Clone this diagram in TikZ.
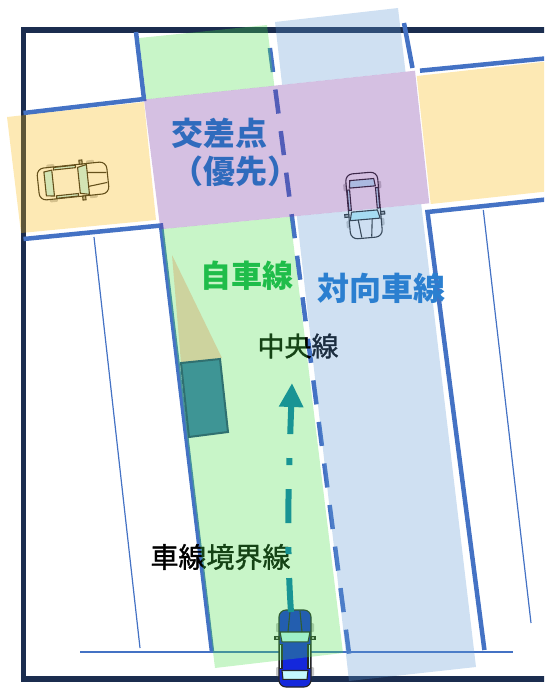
\documentclass[tikz,border=0pt]{standalone}
\usepackage{fontspec}
\usetikzlibrary{arrows.meta}
\newfontfamily\jp{Noto Sans CJK JP}
\newfontfamily\jpmid{Noto Sans CJK JP}[FakeBold=1.2]

\definecolor{framenavy}{RGB}{27,45,79}
\definecolor{lineblue}{RGB}{68,114,196}
\definecolor{lanegreen}{RGB}{72,222,72}
\definecolor{laneblue}{RGB}{95,152,212}
\definecolor{crosspurple}{RGB}{115,45,158}
\definecolor{roadyellow}{RGB}{248,182,8}
\definecolor{routeteal}{RGB}{24,148,148}
\definecolor{obstacleteal}{RGB}{62,149,149}
\definecolor{shadekhaki}{RGB}{205,211,158}
\definecolor{labelblue}{RGB}{47,107,189}
\definecolor{labelgreen}{RGB}{31,189,74}
\definecolor{oncomingblue}{RGB}{43,127,208}
\definecolor{glass}{RGB}{196,248,255}
\definecolor{egoblue}{RGB}{20,40,220}

\tikzset{
  carline/.style={draw=black!85, line width=1.1pt},
  % top view of a car, nose towards +x
  pics/car/.style={code={
    \fill[black!22, rounded corners=1pt] (-25,-19) rectangle (-17,-14) (-25,14) rectangle (-17,19)
      (15,-19) rectangle (23,-14) (15,14) rectangle (23,19);
    \draw[carline, fill=#1, rounded corners=7pt] (-35,-16) rectangle (35,16);
    \draw[carline, fill=glass] (-28,-12) -- (-20,-13) -- (-20,13) -- (-28,12) -- cycle;
    \draw[carline, fill=glass] (6,-13) -- (15,-15) -- (15,15) -- (6,13) -- cycle;
    \draw[carline, fill=glass] (-18,-15.5) rectangle (4,-13) (-18,13) rectangle (4,15.5);
    \draw[carline] (15,-7) -- (34,-5) (15,7) -- (34,5);
    \draw[carline, fill=black!30] (8,-16) rectangle (11,-20) (8,16) rectangle (11,20);
  }}
}

\begin{document}
\begin{tikzpicture}[x=1pt, y=-1pt,
    lbl/.style={inner sep=0pt, font=\jp\bfseries\fontsize{32}{37.5}\selectfont},
    note/.style={inner sep=0pt, font=\jpmid\fontsize{27}{30}\selectfont},
    tint/.style={fill=#1, fill opacity=0.3},
    laneline/.style={draw=lineblue, line width=4.5pt},
    guide/.style={draw=lineblue, line width=1.2pt},
    midline/.style={draw=lineblue, line width=4.5pt, dash pattern=on 24.2pt off 17.7pt},
    route/.style={draw=routeteal, line width=6pt, dash pattern=on 34pt off 24pt on 7pt off 24pt,
      -{Triangle[length=24pt, width=23pt]}}]
  \useasboundingbox (0,0) rectangle (544,691);
  \clip (0,0) rectangle (544,691);

  % outer frame
  \draw[framenavy, line width=5.5pt] (560,30) -- (23.5,30) -- (23.5,679) -- (560,679);

  % parking guides and stop line
  \draw[guide] (94,237) -- (140,648);
  \draw[guide] (483.3,210) -- (531,623);
  \draw[guide] (80,652) -- (513,652);

  % kerbs of both roads
  \draw[laneline] (23.5,113) -- (144,99) -- (136,32);
  \draw[laneline] (23.5,239) -- (161,225.5) -- (212,652);
  \draw[laneline] (404,23) -- (412.5,68);
  \draw[laneline] (420,70.7) -- (560,57);
  \draw[laneline] (560,198) -- (427.5,212) -- (484.4,650);

  % centre line
  \draw[midline] (269.9,48) -- (349.1,654);

  \node[note] (centrelbl) at (298,346) {中央線};
  \node[note, font=\jpmid\fontsize{28}{30}\selectfont] (borderlbl) at (220.5,557) {車線境界線};

  % cars
  \pic (crosscar) [rotate=6] at (73,181) {car=white};
  \pic (oncar) [rotate=-85, xscale=0.93] at (364,205.5) {car=white};
  \pic (egocar) [rotate=90, xscale=1.1] at (295,648.5) {car=egoblue};

  % road surfaces
  \fill[tint=roadyellow] (7,117) -- (144,102) -- (156,220) -- (21,233) -- cycle;
  \fill[tint=roadyellow] (416.7,76) -- (560,60) -- (560,190) -- (430.7,204) -- cycle;
  \fill[tint=crosspurple] (144,99.5) -- (415,70.7) -- (429.3,203.3) -- (160.4,229.3) -- cycle;
  \fill[tint=lanegreen] (139,38) -- (267,25) -- (274.3,85.7) -- (146.4,99.3) -- cycle;
  \fill[tint=lanegreen] (162,229.1) -- (290.2,216.8) -- (343,653) -- (215,668) -- cycle;
  \fill[tint=laneblue] (275,22) -- (398,8) -- (405.5,71.7) -- (282.1,84.8) -- cycle;
  \fill[tint=laneblue] (296.8,216.1) -- (421.2,204.1) -- (476,667) -- (349,681) -- cycle;

  % parked obstacle and the area hidden behind it
  \fill[shadekhaki] (172,255) -- (222,358) -- (181,363) -- cycle;
  \draw[fill=obstacleteal, draw=obstacleteal!75!black, line width=2pt]
    (181,363) -- (220,359) -- (228,432) -- (189,437) -- cycle;

  % planned path
  \coordinate (pathstart) at (291,612);
  \coordinate (pathtip) at (292,383);
  \draw[route] (pathstart) .. controls (286,540) and (289,470) .. (pathtip);

  \node[lbl, align=left, anchor=west, text=labelblue] (crosslbl) at (171.5,152.3) {交差点\\（優先）};
  \node[lbl, font=\jp\bfseries\fontsize{31}{36}\selectfont, text=labelgreen] (ownlbl) at (247,276) {自車線};
  \node[lbl, text=oncomingblue] (oncominglbl) at (381.5,288) {対向車線};
\end{tikzpicture}
\end{document}
